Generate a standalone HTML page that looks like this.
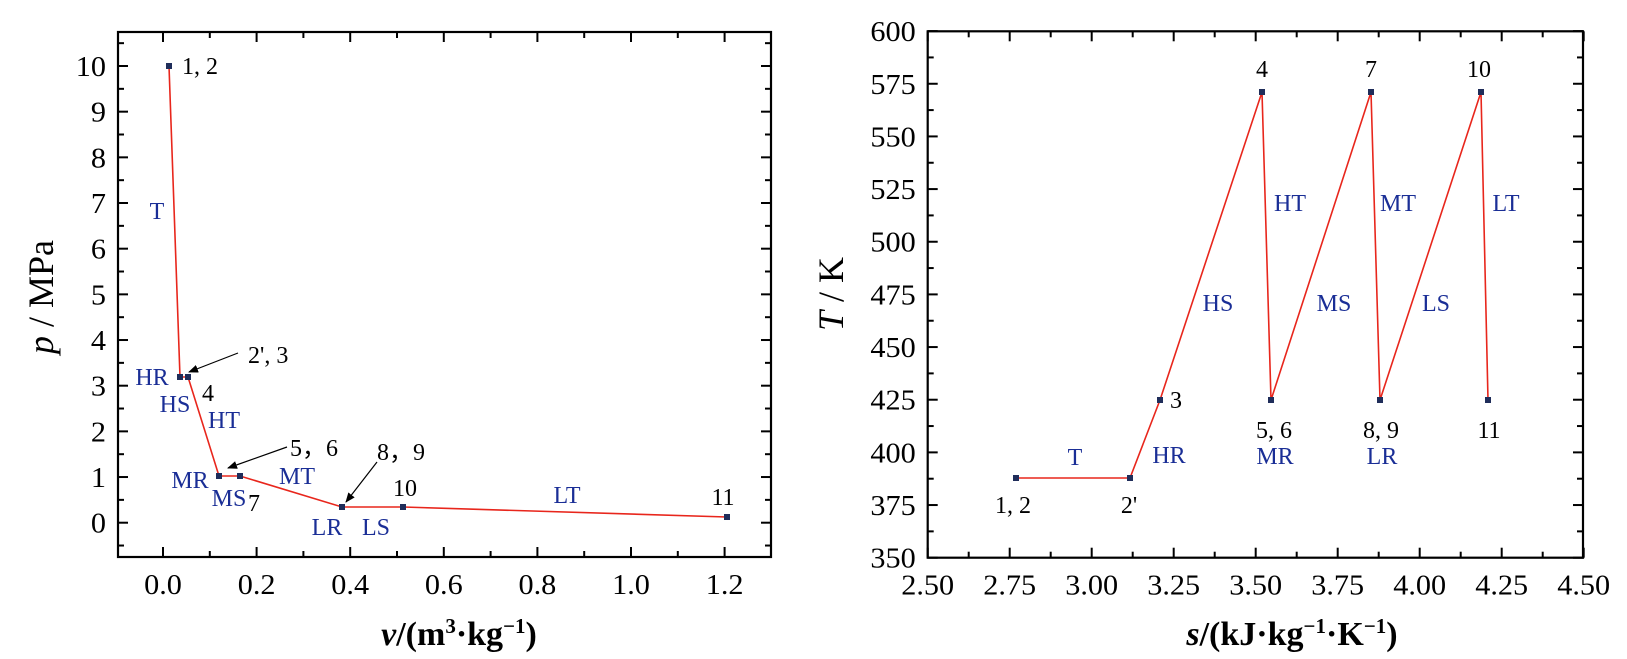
<!DOCTYPE html>
<html><head><meta charset="utf-8"><style>
html,body{margin:0;padding:0;background:#fff;width:1627px;height:659px;overflow:hidden}
svg{display:block}
text{font-family:"Liberation Serif",serif}
.tk{font-size:28px;fill:#000}
.bl{font-size:24px;fill:#1a2e96}
.nb{font-size:24px;fill:#000}
</style></head><body>
<svg id="s" width="1627" height="659" viewBox="0 0 1627 659" xmlns="http://www.w3.org/2000/svg">
<defs><marker id="ar" markerWidth="10" markerHeight="8" refX="9" refY="4" orient="auto" markerUnits="userSpaceOnUse"><path d="M0,0 L10,4 L0,8 z" fill="#000"/></marker></defs>
<g id="g"></g>
<!-- left plot -->
<polyline points="169,66 180,377 188,377 219,476 240,476 342,507 403,507 727,517" fill="none" stroke="#e8261c" stroke-width="1.6"/>
<g fill="#1f2d5a">
<rect x="166" y="63" width="6" height="6"/><rect x="177" y="374" width="6" height="6"/><rect x="185" y="374" width="6" height="6"/>
<rect x="216" y="473" width="6" height="6"/><rect x="237" y="473" width="6" height="6"/><rect x="339" y="504" width="6" height="6"/>
<rect x="400" y="504" width="6" height="6"/><rect x="724" y="514" width="6" height="6"/>
</g>
<line x1="238" y1="353" x2="189" y2="372" stroke="#000" stroke-width="1.2" marker-end="url(#ar)"/>
<line x1="287" y1="447" x2="228" y2="468" stroke="#000" stroke-width="1.2" marker-end="url(#ar)"/>
<line x1="377" y1="462" x2="346" y2="502" stroke="#000" stroke-width="1.2" marker-end="url(#ar)"/>
<text class="nb" x="182" y="74">1, 2</text>
<text class="bl" x="157" y="219" text-anchor="middle">T</text>
<text class="bl" x="152" y="385" text-anchor="middle">HR</text>
<text class="bl" x="175" y="412" text-anchor="middle">HS</text>
<text class="bl" x="224" y="428" text-anchor="middle">HT</text>
<text class="nb" x="248" y="363">2', 3</text>
<text class="nb" x="208" y="401" text-anchor="middle">4</text>
<text class="bl" x="190" y="488" text-anchor="middle">MR</text>
<text class="bl" x="229" y="506" text-anchor="middle">MS</text>
<text class="nb" x="254" y="511" text-anchor="middle">7</text>
<text class="bl" x="297" y="484" text-anchor="middle">MT</text>
<text class="nb" x="290" y="456">5，6</text>
<text class="nb" x="377" y="460">8，9</text>
<text class="nb" x="405" y="496" text-anchor="middle">10</text>
<text class="bl" x="327" y="535" text-anchor="middle">LR</text>
<text class="bl" x="376" y="535" text-anchor="middle">LS</text>
<text class="bl" x="567" y="503" text-anchor="middle">LT</text>
<text class="nb" x="723" y="505" text-anchor="middle">11</text>
<text x="459" y="645" text-anchor="middle" font-size="34" font-weight="bold"><tspan font-style="italic">v</tspan>/(m<tspan font-size="21" dy="-12">3</tspan><tspan dy="12">·kg</tspan><tspan font-size="21" dy="-12">−1</tspan><tspan dy="12">)</tspan></text>
<text transform="translate(53,297) rotate(-90)" text-anchor="middle" font-size="36"><tspan font-style="italic">p</tspan> / MPa</text>
<!-- right plot -->
<polyline points="1016,478 1130,478 1160,400 1262,92 1271,400 1371,92 1380,400 1481,92 1488,400" fill="none" stroke="#e8261c" stroke-width="1.6"/>
<g fill="#1f2d5a">
<rect x="1013" y="475" width="6" height="6"/><rect x="1127" y="475" width="6" height="6"/><rect x="1157" y="397" width="6" height="6"/>
<rect x="1259" y="89" width="6" height="6"/><rect x="1268" y="397" width="6" height="6"/><rect x="1368" y="89" width="6" height="6"/>
<rect x="1377" y="397" width="6" height="6"/><rect x="1478" y="89" width="6" height="6"/><rect x="1485" y="397" width="6" height="6"/>
</g>
<text class="nb" x="1262" y="77" text-anchor="middle">4</text>
<text class="nb" x="1371" y="77" text-anchor="middle">7</text>
<text class="nb" x="1479" y="77" text-anchor="middle">10</text>
<text class="bl" x="1290" y="211" text-anchor="middle">HT</text>
<text class="bl" x="1398" y="211" text-anchor="middle">MT</text>
<text class="bl" x="1506" y="211" text-anchor="middle">LT</text>
<text class="bl" x="1218" y="311" text-anchor="middle">HS</text>
<text class="bl" x="1334" y="311" text-anchor="middle">MS</text>
<text class="bl" x="1436" y="311" text-anchor="middle">LS</text>
<text class="nb" x="1176" y="408" text-anchor="middle">3</text>
<text class="bl" x="1075" y="465" text-anchor="middle">T</text>
<text class="bl" x="1169" y="463" text-anchor="middle">HR</text>
<text class="nb" x="1013" y="513" text-anchor="middle">1, 2</text>
<text class="nb" x="1129" y="513" text-anchor="middle">2'</text>
<text class="nb" x="1274" y="438" text-anchor="middle">5, 6</text>
<text class="bl" x="1275" y="464" text-anchor="middle">MR</text>
<text class="nb" x="1381" y="438" text-anchor="middle">8, 9</text>
<text class="bl" x="1382" y="464" text-anchor="middle">LR</text>
<text class="nb" x="1489" y="438" text-anchor="middle">11</text>
<text x="1292" y="645" text-anchor="middle" font-size="34" font-weight="bold"><tspan font-style="italic">s</tspan>/(kJ·kg<tspan font-size="21" dy="-12">−1</tspan><tspan dy="12">·K</tspan><tspan font-size="21" dy="-12">−1</tspan><tspan dy="12">)</tspan></text>
<text transform="translate(843,294) rotate(-90)" text-anchor="middle" font-size="36"><tspan font-style="italic">T</tspan> / K</text>
</svg>
<script>
var g=document.getElementById('g'),h='';
function ax(L,R,T,B,xs,ys){
 h+='<rect x="'+L+'" y="'+T+'" width="'+(R-L)+'" height="'+(B-T)+'" fill="none" stroke="#000" stroke-width="2.2"/>';
 xs.forEach(function(t){var len=t[2]?10:6;
  h+='<line x1="'+t[0]+'" y1="'+B+'" x2="'+t[0]+'" y2="'+(B-len)+'" stroke="#000" stroke-width="2"/>';
  h+='<line x1="'+t[0]+'" y1="'+T+'" x2="'+t[0]+'" y2="'+(T+len)+'" stroke="#000" stroke-width="2"/>';
  if(t[1]!=null)h+='<text class="tk" transform="translate('+t[0]+','+(B+37)+') scale(1.08,1)" text-anchor="middle">'+t[1]+'</text>';});
 ys.forEach(function(t){var len=t[2]?10:6;
  h+='<line x1="'+L+'" y1="'+t[0]+'" x2="'+(L+len)+'" y2="'+t[0]+'" stroke="#000" stroke-width="2"/>';
  h+='<line x1="'+R+'" y1="'+t[0]+'" x2="'+(R-len)+'" y2="'+t[0]+'" stroke="#000" stroke-width="2"/>';
  if(t[1]!=null)h+='<text class="tk" transform="translate('+(L-12)+','+(t[0]+10)+') scale(1.08,1)" text-anchor="end">'+t[1]+'</text>';});
}
var xs=[],ys=[],i;
for(i=-1;i<=13;i++){var x=163+468*i/10;if(x>=118&&x<=771)xs.push([x,i%2==0&&i>=0&&i<=12?(i/10).toFixed(1):null,i%2==0]);}
for(i=-1;i<=21;i++){var y=522.7-45.67*i/2;if(y>=32&&y<=557)ys.push([y,i%2==0&&i>=0?i/2:null,i%2==0]);}
ax(118,771,32,557,xs,ys);
xs=[];ys=[];
for(i=0;i<=16;i++){var x=927.7+41*i;xs.push([x,i%2==0?(2.5+i*0.125).toFixed(2):null,i%2==0]);}
for(i=0;i<=20;i++){var y=557.7-26.33*i;ys.push([y,i%2==0?350+i*12.5:null,i%2==0]);}
ax(927.7,1583,31.3,557.7,xs,ys);
g.innerHTML=h;
</script>
</body></html>
